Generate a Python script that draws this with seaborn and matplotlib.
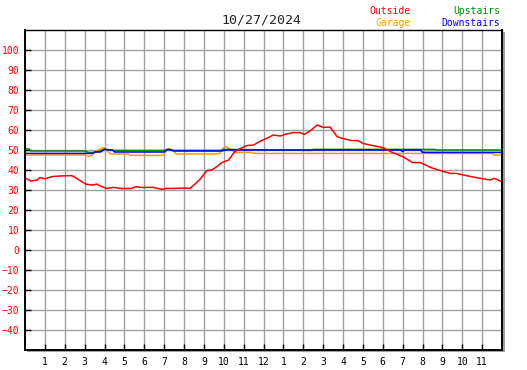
import pandas as pd
import seaborn as sns
import matplotlib.pyplot as plt
from matplotlib.patches import Rectangle

sns.set_style("white")
plt.rcParams['font.family'] = ['DejaVu Sans Mono', 'DejaVu Sans']

title = "10/27/2024"
hour_labels = ['1', '2', '3', '4', '5', '6', '7', '8', '9', '10', '11', '12',
               '1', '2', '3', '4', '5', '6', '7', '8', '9', '10', '11']

# outside temperature
out_h = [0, 0.3, 0.6, 0.75, 1.0, 1.35, 1.75, 2.35, 2.6, 2.85, 3.1, 3.45, 3.6, 3.85,
         4.1, 4.45, 4.85, 5.35, 5.6, 5.8, 6.45, 6.9, 7.1, 7.5, 8.1, 8.3, 8.5, 8.8,
         9.15, 9.4, 9.65, 9.9, 10.25, 10.55, 10.8, 11.15, 11.5, 11.85, 12.15, 12.5,
         12.85, 13.15, 13.5, 13.85, 14.05, 14.35, 14.7, 15.0, 15.35, 15.7, 16.0,
         16.45, 16.75, 17.0, 17.5, 18.0, 18.5, 19.0, 19.5, 19.9, 20.4, 20.9, 21.4,
         21.7, 22.2, 22.7, 23.4, 23.6, 24.0]
out_v = [36.0, 34.5, 35.0, 36.2, 35.6, 36.7, 37.0, 37.2, 35.8, 34.2, 32.8, 32.5, 33.0,
         31.7, 30.8, 31.3, 30.7, 30.8, 31.7, 31.3, 31.3, 30.3, 30.8, 30.8, 31.0, 30.8,
         32.5, 35.3, 39.7, 40.0, 41.7, 43.7, 45.0, 49.2, 50.5, 52.2, 52.5, 54.5, 55.8,
         57.5, 57.0, 58.0, 58.7, 58.7, 57.8, 59.6, 62.5, 61.3, 61.5, 56.7, 55.7, 54.7,
         54.7, 53.3, 52.2, 51.2, 48.7, 46.7, 43.7, 43.7, 41.3, 39.7, 38.3, 38.3, 37.2,
         36.2, 35.0, 35.8, 34.2]

# garage
gar_h = [0, 3.0, 3.2, 3.35, 3.6, 3.8, 3.95, 4.1, 4.3, 5.2, 5.3, 6.9, 7.0, 7.15, 7.35,
         7.6, 9.6, 9.8, 9.95, 10.1, 10.3, 10.6, 11.4, 11.5, 23.5, 23.6, 24]
gar_v = [47.5, 47.5, 46.8, 47.2, 49.5, 50.5, 51.3, 50.0, 48.0, 48.0, 47.3, 47.3, 48.0,
         50.5, 50.5, 48.0, 48.0, 48.3, 50.8, 51.7, 50.5, 48.8, 48.8, 48.3, 48.3, 47.5, 47.5]

# upstairs
up_h = [0, 0.2, 0.3, 3.0, 3.2, 3.5, 3.8, 4.0, 4.3, 7.0, 7.2, 7.5, 9.8, 10.0, 10.3,
        14.4, 14.5, 20.6, 20.7, 24]
up_v = [50.5, 50.5, 49.5, 49.5, 48.8, 48.8, 49.5, 50.5, 49.8, 49.8, 50.3, 49.8, 49.8,
        50.3, 50.3, 49.8, 50.3, 50.3, 50.0, 50.0]

# downstairs
dn_h = [0, 3.4, 3.5, 3.8, 4.0, 4.4, 4.5, 7.0, 7.2, 7.5, 9.9, 10.1, 18.9, 19.0, 19.1,
        19.9, 20.0, 24]
dn_v = [48.3, 48.3, 49.0, 49.0, 50.3, 50.0, 49.0, 49.0, 50.3, 49.5, 49.5, 50.0, 50.0,
        49.2, 50.0, 50.0, 48.8, 48.8]

frames = []
for name, h, v in [('Garage', gar_h, gar_v), ('Upstairs', up_h, up_v),
                   ('Downstairs', dn_h, dn_v), ('Outside', out_h, out_v)]:
    frames.append(pd.DataFrame({'hour': h, 'temp': v, 'series': name}))
df = pd.concat(frames, ignore_index=True)

colors = {'Outside': '#ff0000', 'Garage': '#ff9900',
          'Upstairs': '#008c00', 'Downstairs': '#0000ff'}

W, H = 527, 370
fig = plt.figure(figsize=(W / 100, H / 100), dpi=100)
x0, x1, ytop, ybot = 25, 502, 30, 350
ax = fig.add_axes([x0 / W, (H - ybot) / H, (x1 - x0) / W, (ybot - ytop) / H])
ax.set_zorder(2)
ax.set_facecolor('white')

# drop shadow
fig.patches.append(Rectangle(((x0 + 2) / W, (H - ybot - 2) / H), (x1 - x0 + 1) / W,
                             (ybot - ytop) / H, transform=fig.transFigure,
                             facecolor='#a0a0a0', edgecolor='none', zorder=0))

sns.lineplot(data=df, x='hour', y='temp', hue='series',
             hue_order=['Garage', 'Upstairs', 'Downstairs', 'Outside'],
             palette=colors, estimator=None, sort=False, linewidth=1.1,
             legend=False, ax=ax)

ax.set_xlim(0, 24)
ax.set_ylim(-50, 110)
ax.set_xticks(range(1, 24))
ax.set_xticklabels(hour_labels)
ax.set_yticks(range(-40, 101, 10))
ax.set_xlabel('')
ax.set_ylabel('')

for v in range(-40, 101, 10):
    ax.axhline(v, color='#a0a0a0', linewidth=1, zorder=0)
for h in range(1, 24):
    ax.axvline(h, color='#a0a0a0', linewidth=1, zorder=0)

for side, s in ax.spines.items():
    s.set_color('black')
    s.set_linewidth(1.0 if side == 'top' else 1.4)
    s.set_visible(True)

ax.tick_params(axis='y', direction='in', length=4, width=1, color='black',
               labelcolor='#ff0000', labelsize=7, pad=4, left=True)
ax.tick_params(axis='x', direction='in', length=4, width=1, color='black',
               labelcolor='black', labelsize=7, pad=5, bottom=True)

fig.text(261 / W, 1 - 20 / H, title, ha='center', va='center', fontsize=9.5)
fig.text(411 / W, 1 - 11 / H, 'Outside', ha='right', va='center', fontsize=7,
         color=colors['Outside'])
fig.text(411 / W, 1 - 23.5 / H, 'Garage', ha='right', va='center', fontsize=7,
         color=colors['Garage'])
fig.text(500 / W, 1 - 11 / H, 'Upstairs', ha='right', va='center', fontsize=7,
         color=colors['Upstairs'])
fig.text(500 / W, 1 - 23.5 / H, 'Downstairs', ha='right', va='center', fontsize=7,
         color=colors['Downstairs'])

fig.savefig('out.png', dpi=100)
